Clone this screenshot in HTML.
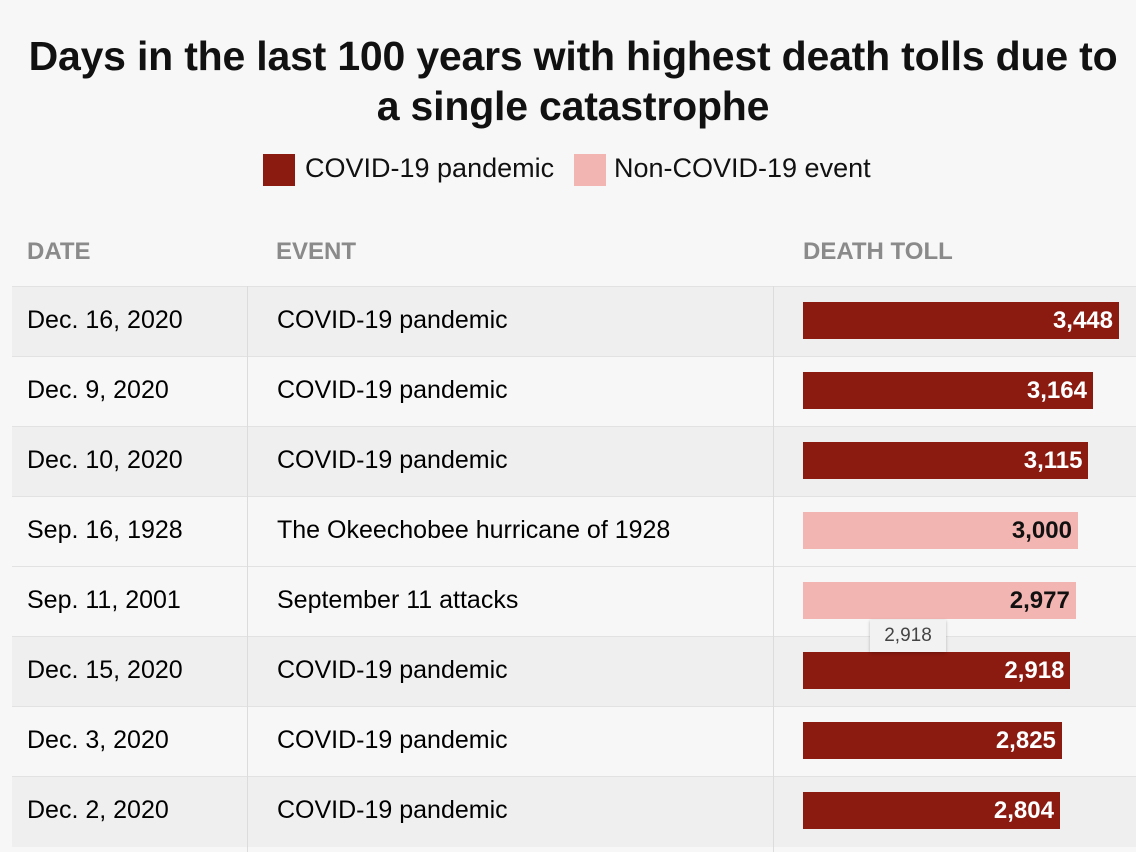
<!DOCTYPE html>
<html><head><meta charset="utf-8"><style>
body{margin:0;width:1136px;height:852px;background:#f7f7f7;font-family:"Liberation Sans",sans-serif;overflow:hidden;position:relative}
.abs{position:absolute}
.title{left:0;width:1146px;text-align:center;font-weight:bold;font-size:41px;color:#111;letter-spacing:-0.2px;white-space:nowrap}
.hdr{top:238px;font-size:24px;color:#8a8a8a;font-weight:bold}
.row{position:absolute;left:12px;width:1124px;height:70px;border-top:1px solid #e2e2e2}
.cell{position:absolute;top:19px;font-size:25px;color:#000;white-space:nowrap}
.bar{position:absolute;height:37px;top:15px}
.val{position:absolute;right:6px;top:5px;font-weight:bold;font-size:24px}
.vline{position:absolute;top:286px;height:566px;width:1px;background:#dcdcdc}
</style></head><body>
<div class="abs title" style="top:33px">Days in the last 100 years with highest death tolls due to</div>
<div class="abs title" style="top:83px">a single catastrophe</div>
<div class="abs" style="left:263px;top:154px;width:32px;height:32px;background:#8b1a10"></div>
<div class="abs" style="left:305px;top:153px;font-size:27px;color:#111">COVID-19 pandemic</div>
<div class="abs" style="left:574px;top:154px;width:32px;height:32px;background:#f3b5b1"></div>
<div class="abs" style="left:614px;top:153px;font-size:27px;color:#111">Non-COVID-19 event</div>
<div class="abs hdr" style="left:27px">DATE</div>
<div class="abs hdr" style="left:276px">EVENT</div>
<div class="abs hdr" style="left:803px">DEATH TOLL</div>
<div id="rows"></div>
<div class="vline" style="left:247px"></div>
<div class="vline" style="left:773px"></div>
<div class="abs" style="left:870px;top:620px;width:76px;height:32px;background:#f2f2f2;box-shadow:0 1px 3px rgba(0,0,0,0.25);font-size:19px;color:#444;text-align:center;line-height:32px">2,918</div>
<script>
const dates=["Dec. 16, 2020","Dec. 9, 2020","Dec. 10, 2020","Sep. 16, 1928","Sep. 11, 2001","Dec. 15, 2020","Dec. 3, 2020","Dec. 2, 2020"];
const events=["COVID-19 pandemic","COVID-19 pandemic","COVID-19 pandemic","The Okeechobee hurricane of 1928","September 11 attacks","COVID-19 pandemic","COVID-19 pandemic","COVID-19 pandemic"];
const tolls=[3448,3164,3115,3000,2977,2918,2825,2804];
const isCovid=[true,true,true,false,false,true,true,true];
const shaded=[true,false,true,false,false,true,false,true];
const xScale=v=>v*316/3448;
const c=document.getElementById('rows');
tolls.forEach((v,i)=>{
  const r=document.createElement('div');r.className='row';
  
  
  r.style.top=(286+i*70)+'px';r.style.background=shaded[i]?'#efefef':'#f7f7f7';
  const d=document.createElement('div');d.className='cell';d.style.left='15px';d.textContent=dates[i];
  
  
  const e=document.createElement('div');e.className='cell';e.style.left='265px';e.textContent=events[i];
  
  
  const b=document.createElement('div');b.className='bar';b.style.left='791px';b.style.width=xScale(v)+'px';
  b.style.background=isCovid[i]?'#8b1a10':'#f3b5b1';
  
  
  const l=document.createElement('div');l.className='val';l.style.color=isCovid[i]?'#fff':'#111';l.textContent=v.toLocaleString('en-US');
  
  
  b.appendChild(l);r.appendChild(d);r.appendChild(e);r.appendChild(b);c.appendChild(r);
});
</script>
</body></html>
